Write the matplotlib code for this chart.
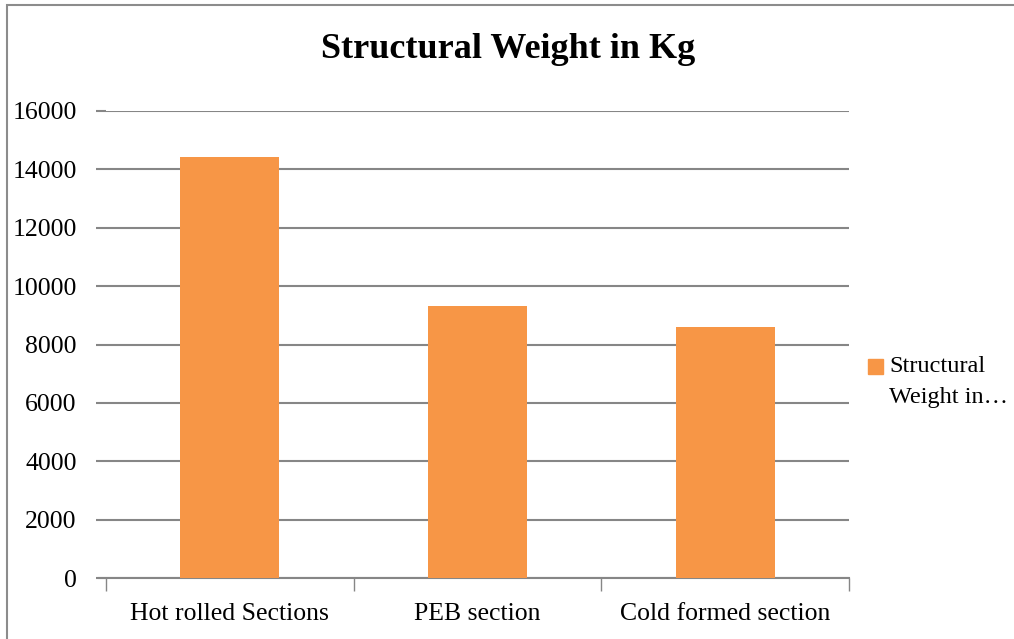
import matplotlib.pyplot as plt
from matplotlib.patches import Rectangle

categories = ["Hot rolled Sections", "PEB section", "Cold formed section"]
weights = [14430, 9320, 8600]
series_name = "Structural\nWeight in…"
title = "Structural Weight in Kg"
yticks = [0, 2000, 4000, 6000, 8000, 10000, 12000, 14000, 16000]

plt.rcParams['font.family'] = ['Liberation Serif', 'DejaVu Serif']
bar_color = '#F79646'
grid_color = '#868686'

fig = plt.figure(figsize=(10.14, 6.39), dpi=100)
ax = fig.add_axes([106 / 1014, 1 - 578.3 / 639, 743 / 1014, (578.3 - 110.7) / 639])

x = range(len(categories))
ax.bar(x, weights, width=0.4, color=bar_color, zorder=3)

ax.set_xlim(-0.5, len(categories) - 0.5)
ax.set_ylim(0, 16000)
ax.set_yticks(yticks)
ax.set_yticklabels([str(v) for v in yticks], fontsize=18.5)
ax.yaxis.grid(True, color=grid_color, linewidth=1.5, zorder=0)
ax.tick_params(axis='y', length=7, width=1.5, color=grid_color, pad=14)

# category labels sit between boundary ticks
ax.set_xticks([-0.5, 0.5, 1.5, 2.5])
ax.set_xticklabels([])
ax.set_xticks(list(x), minor=True)
ax.set_xticklabels(categories, minor=True, fontsize=18.5)
ax.tick_params(axis='x', which='major', length=9, width=1, color=grid_color)
ax.tick_params(axis='x', which='minor', length=0, pad=18)

for s in ['top', 'right', 'left']:
    ax.spines[s].set_visible(False)
ax.spines['bottom'].set_color(grid_color)
ax.spines['bottom'].set_linewidth(1.5)
ax.spines['bottom'].set_bounds(-0.5 - 7 / 247.7, 2.5)

fig.text(508 / 1014, 1 - 50 / 639, title, ha='center', va='center',
         fontsize=26, fontweight='bold')

# legend drawn by hand to match the truncated entry
lines = series_name.split("\n")
fig.patches.append(Rectangle((868 / 1014, 1 - 374 / 639), 15 / 1014, 15 / 639,
                             transform=fig.transFigure, color=bar_color))
fig.text(889 / 1014, 1 - 366 / 639, lines[0], ha='left', va='center', fontsize=17.5)
fig.text(889 / 1014, 1 - 398 / 639, lines[1], ha='left', va='center', fontsize=17.5)

# chart frame
fig.patches.append(Rectangle((6.5 / 1014, -0.05), 1.1, 1.05 - 4.5 / 639,
                             transform=fig.transFigure, fill=False,
                             edgecolor='#8c8c8c', linewidth=1.5))

fig.savefig('out.png', dpi=100)
